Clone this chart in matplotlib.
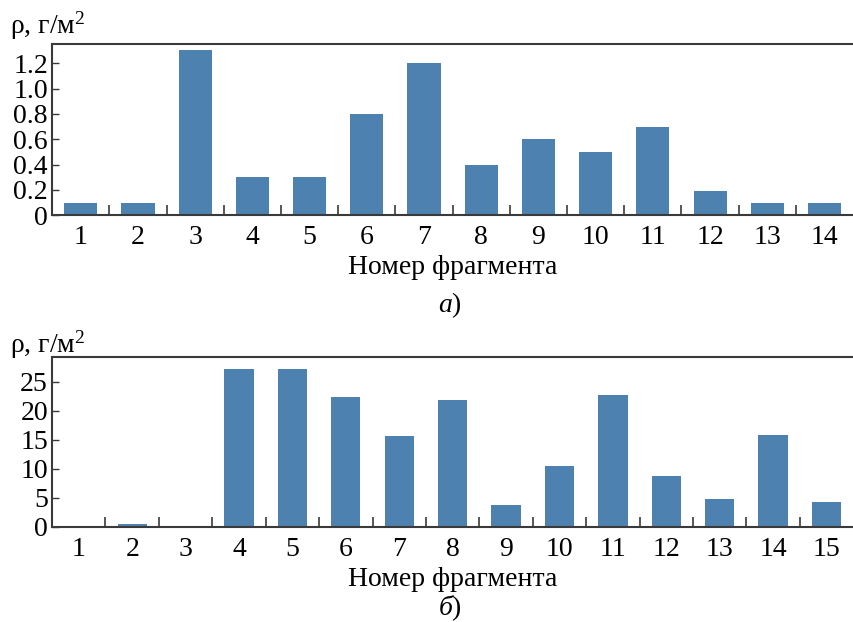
import matplotlib

matplotlib.use("Agg")
import matplotlib.pyplot as plt
import numpy as np

plt.rcParams["font.family"] = ["Liberation Serif", "DejaVu Serif"]
plt.rcParams["mathtext.fontset"] = "custom"
plt.rcParams["mathtext.rm"] = "Liberation Serif"
plt.rcParams["mathtext.it"] = "Liberation Serif:italic"

# Panel a: density by fragment (g/m^2)
frag_a = list(range(1, 15))
rho_a = [0.1, 0.1, 1.3, 0.3, 0.3, 0.8, 1.2, 0.4, 0.6, 0.5, 0.7, 0.19, 0.1, 0.1]
yticks_a = [0, 0.2, 0.4, 0.6, 0.8, 1.0, 1.2]
ylabels_a = ["0", "0.2", "0.4", "0.6", "0.8", "1.0", "1.2"]

# Panel b
frag_b = list(range(1, 16))
rho_b = [0, 0.5, 0, 27.2, 27.2, 22.4, 15.7, 21.9, 3.8, 10.5, 22.7, 8.8, 4.8, 15.9, 4.3]
yticks_b = [0, 5, 10, 15, 20, 25]
ylabels_b = ["0", "5", "10", "15", "20", "25"]

BAR = "#4d82b0"
SPINE = "#3a3a3a"
FS = 20


def _panel(ax, frags, vals, yticks, ylabels, ymax, width):
    x = np.arange(len(frags))
    ax.bar(x, vals, width=width, color=BAR, zorder=2)
    ax.set_xlim(-0.5, len(frags) - 0.5)
    ax.set_ylim(0, ymax)
    ax.set_xticks(x)
    ax.set_xticklabels([str(f) for f in frags], fontsize=FS)
    ax.set_xticks(x[:-1] + 0.5, minor=True)
    ax.tick_params(axis="x", which="major", length=0, pad=7)
    ax.tick_params(axis="x", which="minor", direction="in", length=7,
                   width=1.2, color=SPINE)
    ax.set_yticks(yticks)
    ax.set_yticklabels(ylabels, fontsize=FS)
    ax.tick_params(axis="y", direction="in", length=5, width=1.0,
                   color=SPINE, pad=3)
    ax.spines["right"].set_visible(False)
    for s in ("left", "bottom", "top"):
        ax.spines[s].set_color(SPINE)
        ax.spines[s].set_linewidth(1.5)
    ax.set_xlabel("Номер фрагмента", fontsize=FS, labelpad=4)


fig = plt.figure(figsize=(8.54, 6.22), dpi=100)
ax1 = fig.add_axes([0.061, 0.654, 0.938, 0.275])
ax2 = fig.add_axes([0.061, 0.153, 0.938, 0.273])

_panel(ax1, frag_a, rho_a, yticks_a, ylabels_a, 1.35, 0.58)
_panel(ax2, frag_b, rho_b, yticks_b, ylabels_b, 29.3, 0.55)

fig.text(0.012, 1 - 26 / 622, "ρ, г/м$^2$", fontsize=FS, va="center", ha="left")
fig.text(0.012, 1 - 345 / 622, "ρ, г/м$^2$", fontsize=FS, va="center", ha="left")
fig.text(0.527, 1 - 305 / 622, "$a$)", fontsize=FS, va="center", ha="center")
fig.text(0.527, 1 - 608 / 622, "$б$)", fontsize=FS, va="center", ha="center")

fig.savefig("out.png", dpi=100)
plt.close(fig)
